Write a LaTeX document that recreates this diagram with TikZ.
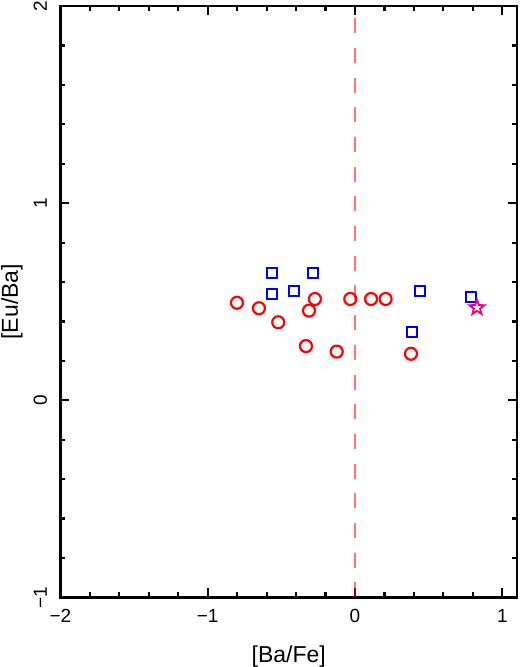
\documentclass[tikz,border=0pt]{standalone}
\usepackage{fontspec}
\setmainfont{Liberation Sans}
\usetikzlibrary{shapes.geometric}
\begin{document}
\begin{tikzpicture}[x=147.3bp,y=197.1bp,
  framestyle/.style={line width=2.3bp},
  tickstyle/.style={line width=2.2bp},
  ticklabel/.style={font=\fontsize{19bp}{21bp}\selectfont, inner sep=0pt},
  axislabel/.style={font=\fontsize{23bp}{26bp}\selectfont, inner sep=0pt},
  redcirc/.style={circle, draw=red, line width=2.2bp, minimum size=12bp, inner sep=0pt},
  bluesq/.style={rectangle, draw=blue, line width=2.2bp, minimum size=10bp, inner sep=0pt},
  magstar/.style={star, star points=5, star point ratio=2.4, draw=magenta, line width=1.9bp, minimum size=15.5bp, inner sep=0pt},
  zeroline/.style={draw=red, draw opacity=0.55, line width=2.1bp, dash pattern=on 15bp off 14.7bp}
]
\useasboundingbox (-2.4100,-1.3531) rectangle (1.1202,2.0310);
\fill[white] (-2.4100,-1.3531) rectangle (1.1202,2.0310);

% frame corners
\coordinate (bl) at (-2,-1);
\coordinate (br) at (1.1,-1);
\coordinate (tr) at (1.1,2);
\coordinate (tl) at (-2,2);
\draw[framestyle] (bl) -- (br) -- (tr) -- (tl) -- cycle;

% minor ticks
\foreach \i in {-9,...,5}{
  \draw[tickstyle] (\i/5,-1) -- ++(0,5bp);
  \draw[tickstyle] (\i/5,2) -- ++(0,-5bp);
}
\foreach \i in {-4,...,9}{
  \draw[tickstyle] (-2,\i/5) -- ++(5bp,0);
  \draw[tickstyle] (1.1,\i/5) -- ++(-5bp,0);
}
% major ticks
\foreach \x in {-1,0,1}{
  \draw[tickstyle] (\x,-1) -- ++(0,9bp);
  \draw[tickstyle] (\x,2) -- ++(0,-9bp);
}
\foreach \y in {0,1}{
  \draw[tickstyle] (-2,\y) -- ++(9bp,0);
  \draw[tickstyle] (1.1,\y) -- ++(-9bp,0);
}

% tick labels
\node[ticklabel, anchor=base] (xl1) at (-2,-1.1294) {−2};
\node[ticklabel, anchor=base] (xl2) at (-1,-1.1294) {−1};
\node[ticklabel, anchor=base] (xl3) at (0,-1.1294) {0};
\node[ticklabel, anchor=base] (xl4) at (1,-1.1294) {1};
\node[ticklabel, anchor=base, rotate=90] (yl1) at (-2.0923,-1) {−1};
\node[ticklabel, anchor=base, rotate=90] (yl2) at (-2.0923,0) {0};
\node[ticklabel, anchor=base, rotate=90] (yl3) at (-2.0923,1) {1};
\node[ticklabel, anchor=base, rotate=90] (yl4) at (-2.0923,2) {2};

% axis labels
\node[axislabel, anchor=base] (xlab) at (-0.45,-1.3278) {[Ba/Fe]};
\node[axislabel, anchor=base, rotate=90] (ylab) at (-2.2879,0.5) {[Eu/Ba]};

% dashed zero line
\coordinate (z0) at (0,-1);
\coordinate (z1) at (0,2);
\draw[zeroline] (z0) -- (z1);

% red circles
\node[redcirc] (c1) at (-0.801,0.495) {};
\node[redcirc] (c2) at (-0.652,0.467) {};
\node[redcirc] (c3) at (-0.521,0.396) {};
\node[redcirc] (c4) at (-0.333,0.275) {};
\node[redcirc] (c5) at (-0.312,0.455) {};
\node[redcirc] (c6) at (-0.272,0.514) {};
\node[redcirc] (c7) at (-0.124,0.247) {};
\node[redcirc] (c8) at (-0.032,0.514) {};
\node[redcirc] (c9) at (0.109,0.514) {};
\node[redcirc] (c10) at (0.208,0.514) {};
\node[redcirc] (c11) at (0.380,0.236) {};

% blue squares
\node[bluesq] (s1) at (-0.561,0.644) {};
\node[bluesq] (s2) at (-0.561,0.538) {};
\node[bluesq] (s3) at (-0.412,0.556) {};
\node[bluesq] (s4) at (-0.285,0.646) {};
\node[bluesq] (s5) at (0.439,0.556) {};
\node[bluesq] (s6) at (0.389,0.347) {};
\node[bluesq] (s7) at (0.788,0.526) {};

% magenta star
\node[magstar] (st1) at (0.828,0.470) {};
\end{tikzpicture}
\end{document}
